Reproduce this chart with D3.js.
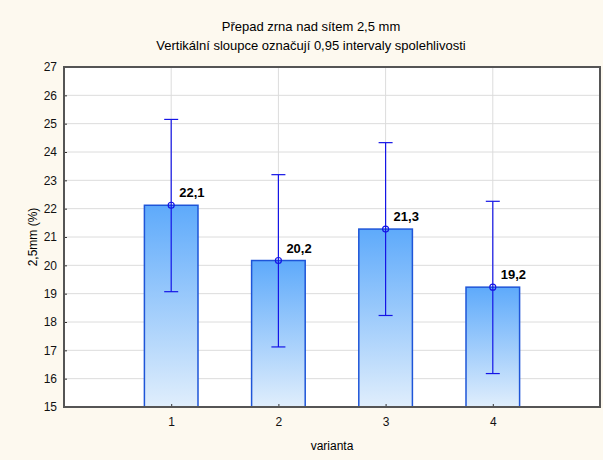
<!DOCTYPE html>
<html lang="cs">
<head>
<meta charset="UTF-8">
<title>Přepad zrna nad sítem 2,5 mm</title>
<script src="https://d3js.org/d3.v7.min.js"></script>
<style>
    body { margin: 0; background: #fdf9ef; }
    svg { display: block; font-family: "Liberation Sans", Arial, sans-serif; }
    .grid line { stroke: #dcdcdc; stroke-width: 1; }
    .axis text { font-size: 12px; fill: #111; }
    .axis path { display: none; }
    .axis line { stroke: #333; }
</style>
</head>
<body>
<svg width="603" height="460"></svg>
<script>
    // data
    const variants = [1, 2, 3, 4];
    const means = [22.12, 20.17, 21.28, 19.23];
    const ciLow = [19.07, 17.12, 18.23, 16.18];
    const ciHigh = [25.15, 23.2, 24.33, 22.26];
    const labels = ["22,1", "20,2", "21,3", "19,2"];
    const yTicks = d3.range(15, 28);

    const margin = { top: 67, right: 3, bottom: 53, left: 64 };
    const width = 603 - margin.left - margin.right;
    const height = 460 - margin.top - margin.bottom;

    const svg = d3.select("svg");

    // gradient for the bars
    const grad = svg.append("defs").append("linearGradient")
        .attr("id", "barGrad")
        .attr("x1", 0).attr("y1", 0).attr("x2", 0).attr("y2", 1);
    grad.append("stop").attr("offset", "0%").attr("stop-color", "#5eaafb");
    grad.append("stop").attr("offset", "100%").attr("stop-color", "#e0eefc");

    // titles
    svg.append("text")
        .attr("x", 311).attr("y", 31)
        .attr("text-anchor", "middle")
        .style("font-size", "13px")
        .text("Přepad zrna nad sítem 2,5 mm");
    svg.append("text")
        .attr("x", 311).attr("y", 50)
        .attr("text-anchor", "middle")
        .style("font-size", "13px")
        .text("Vertikální sloupce označují 0,95 intervaly spolehlivosti");

    const g = svg.append("g")
        .attr("transform", `translate(${margin.left},${margin.top})`);

    const x = d3.scaleLinear().domain([0, 5]).range([0, width]);
    const y = d3.scaleLinear().domain([15, 27]).range([height, 0]);

    // plot background
    g.append("rect")
        .attr("width", width).attr("height", height)
        .attr("fill", "#fff");

    // grid lines
    g.append("g").attr("class", "grid")
        .selectAll("line").data(yTicks.slice(1, -1)).enter().append("line")
        .attr("x1", 0).attr("x2", width)
        .attr("y1", d => y(d)).attr("y2", d => y(d));
    g.append("g").attr("class", "grid")
        .selectAll("line").data(variants).enter().append("line")
        .attr("x1", d => x(d)).attr("x2", d => x(d))
        .attr("y1", 0).attr("y2", height);

    const barW = x(0.25) - x(0);

    // bars
    g.selectAll(".bar")
        .data(variants).enter().append("rect")
        .attr("class", "bar")
        .attr("x", d => x(d) - barW)
        .attr("width", barW * 2)
        .attr("y", (d, i) => y(means[i]))
        .attr("height", (d, i) => height - y(means[i]))
        .attr("fill", "url(#barGrad)")
        .attr("stroke", "#1e55d8")
        .attr("stroke-width", 1.5);

    // error bars
    const err = g.selectAll(".err").data(variants).enter().append("g").attr("class", "err");
    err.append("line")
        .attr("x1", d => x(d)).attr("x2", d => x(d))
        .attr("y1", (d, i) => y(ciLow[i])).attr("y2", (d, i) => y(ciHigh[i]))
        .attr("stroke", "#1515e6").attr("stroke-width", 1.2);
    err.append("line")
        .attr("x1", d => x(d) - 7).attr("x2", d => x(d) + 7)
        .attr("y1", (d, i) => y(ciHigh[i])).attr("y2", (d, i) => y(ciHigh[i]))
        .attr("stroke", "#1515e6").attr("stroke-width", 1.2);
    err.append("line")
        .attr("x1", d => x(d) - 7).attr("x2", d => x(d) + 7)
        .attr("y1", (d, i) => y(ciLow[i])).attr("y2", (d, i) => y(ciLow[i]))
        .attr("stroke", "#1515e6").attr("stroke-width", 1.2);
    err.append("circle")
        .attr("cx", d => x(d)).attr("cy", (d, i) => y(means[i]))
        .attr("r", 3)
        .attr("fill", "none")
        .attr("stroke", "#1515e6").attr("stroke-width", 1.2);

    // value labels
    g.selectAll(".lbl").data(variants).enter().append("text")
        .attr("x", d => x(d) + 8)
        .attr("y", (d, i) => y(means[i]) - 8)
        .style("font-size", "13px")
        .style("font-weight", "bold")
        .text((d, i) => labels[i]);

    // axes
    g.append("g").attr("class", "axis")
        .attr("transform", `translate(0,${height})`)
        .call(d3.axisBottom(x).tickValues(variants).tickSize(-3).tickPadding(10).tickFormat(d3.format("d")));
    g.append("g").attr("class", "axis")
        .call(d3.axisLeft(y).tickValues(yTicks).tickSize(-3).tickPadding(7).tickFormat(d3.format("d")));

    // frame
    g.append("rect")
        .attr("width", width).attr("height", height)
        .attr("fill", "none")
        .attr("stroke", "#555").attr("stroke-width", 2);

    // axis titles
    svg.append("text")
        .attr("x", margin.left + width / 2).attr("y", 450)
        .attr("text-anchor", "middle")
        .style("font-size", "12px")
        .text("varianta");
    svg.append("text")
        .attr("transform", `translate(37,${margin.top + height / 2}) rotate(-90)`)
        .attr("text-anchor", "middle")
        .style("font-size", "12px")
        .text("2,5mm (%)");
</script>
</body>
</html>
